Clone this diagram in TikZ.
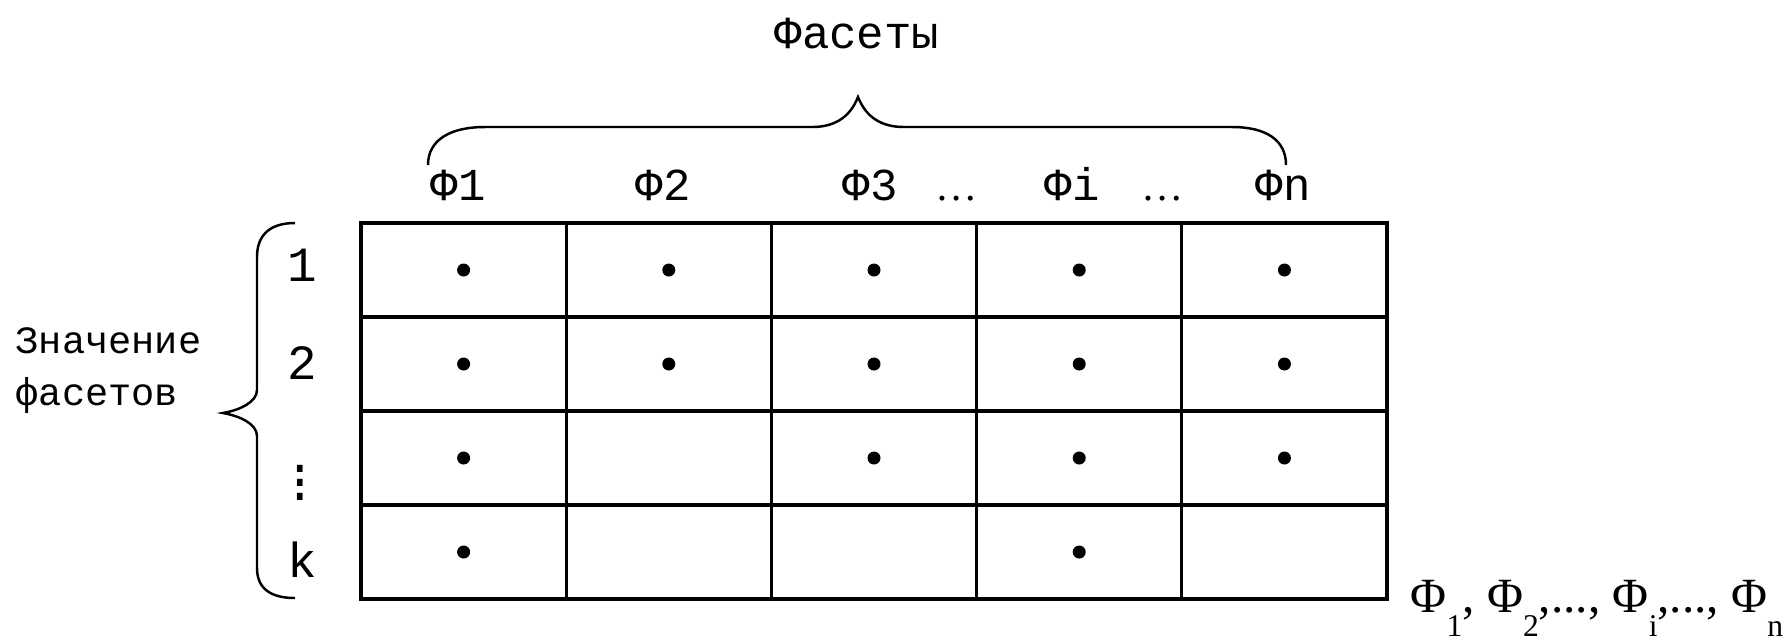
\documentclass[tikz,border=0pt]{standalone}
\usepackage{fontspec}
\setmainfont{Liberation Mono}
\newfontfamily\formfont{Liberation Serif}
\newcommand{\lowsub}[1]{\raisebox{-0.5em}{\fontsize{9}{9}\selectfont #1}}

\begin{document}
\begin{tikzpicture}[x=0.01cm, y=-0.01cm,
    tbl/.style={line width=0.9pt, line cap=rect},
    brc/.style={line width=0.7pt},
    facetlab/.style={font=\fontsize{13}{15}\selectfont, inner sep=0pt, anchor=base},
    gapdots/.style={font=\formfont\fontsize{12}{14}\selectfont, inner sep=0pt, anchor=base},
    rowlab/.style={font=\fontsize{14}{16}\selectfont, inner sep=0pt},
    sidelab/.style={font=\fontsize{11}{14}\selectfont, inner sep=0pt, anchor=base west}]

  \useasboundingbox (0,0) rectangle (1791,641);

  % ---- the grid: five facets across, four values down
  \draw[tbl] (361,223) rectangle (1387,599);
  \foreach \c in {1,...,4}
    \draw[tbl] (361+205.2*\c,223) -- (361+205.2*\c,599);
  \foreach \r in {317,411,505}
    \draw[tbl] (361,\r) -- (1387,\r);

  % ---- which facet takes which value
  \foreach \r/\c in {1/1,1/2,1/3,1/4,1/5,
                     2/1,2/2,2/3,2/4,2/5,
                     3/1,3/3,3/4,3/5,
                     4/1,4/4}
    \fill (361+205.2*\c-102.6, 223+94*\r-47) circle[radius=0.065cm];

  % ---- facet names over the columns
  \node[facetlab] (f1) at (458,200) {Ф1};
  \node[facetlab] (f2) at (663,200) {Ф2};
  \node[facetlab] (f3) at (870,200) {Ф3};
  \node[gapdots]  (g1) at (957,200) {\ldots};
  \node[facetlab] (fi) at (1072,200) {Фi};
  \node[gapdots]  (g2) at (1163,200) {\ldots};
  \node[facetlab] (fn) at (1283,200) {Фn};

  % ---- brace over the names
  \draw[brc] (428,165) .. controls (428,140) and (450,127) .. (485,127)
    -- (812,127) .. controls (835,127) and (850,117) .. (858,97)
    .. controls (866,117) and (881,127) .. (904,127)
    -- (1232,127) .. controls (1266,127) and (1286,140) .. (1286,165);
  \node[font=\fontsize{13}{15}\selectfont, inner sep=0pt] (ttl) at (857,34) {Фасеты};

  % ---- value numbers down the rows
  \node[rowlab] (v1) at (302,265) {1};
  \node[rowlab] (v2) at (302,363) {2};
  \node[rowlab] (vd) at (300,472) {$\vdots$};
  \node[rowlab] (vk) at (302,560) {k};

  % ---- brace beside the numbers
  \draw[brc] (295,223) .. controls (270,223) and (257,235) .. (257,257)
    -- (257,390) .. controls (257,402) and (240,410) .. (223,413)
    .. controls (240,416) and (257,424) .. (257,436)
    -- (257,568) .. controls (257,588) and (270,598) .. (295,598);
  \node[sidelab] (s1) at (15,353) {Значение};
  \node[sidelab] (s2) at (15,405) {фасетов};

  % ---- the facet list under the corner
  \node[font=\formfont\fontsize{14}{16}\selectfont, inner sep=0pt, anchor=base west] (lst)
    at (1410,612) {Φ\lowsub{1}, Φ\lowsub{2},..., Φ\lowsub{i},..., Φ\lowsub{n}};
\end{tikzpicture}
\end{document}
